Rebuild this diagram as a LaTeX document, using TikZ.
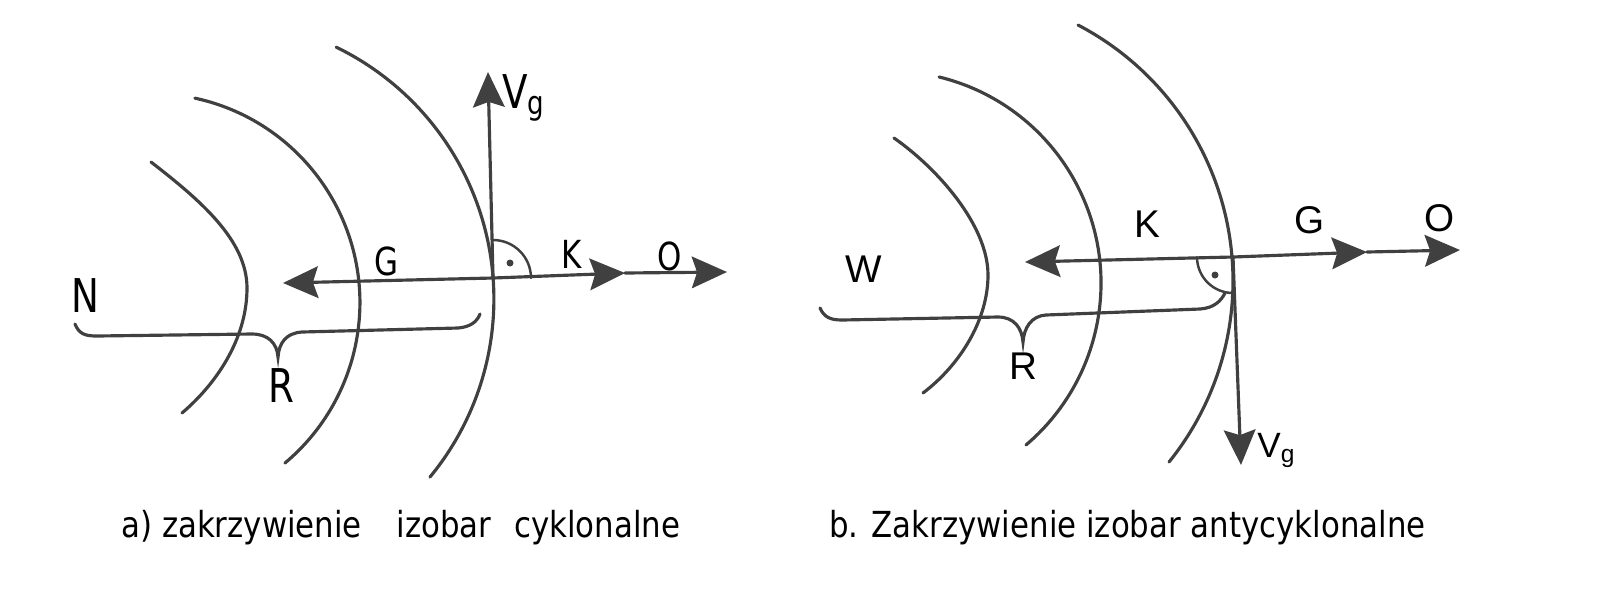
\documentclass[tikz,border=0pt]{standalone}
\usepackage{fontspec}
\setmainfont{DejaVu Sans}[FakeStretch=0.8]
\newfontfamily\arialfont{Liberation Sans}
\newfontfamily\capfont{DejaVu Sans}[FakeStretch=0.86]
\usetikzlibrary{arrows.meta}

\begin{document}
\begin{tikzpicture}[x=0.02cm,y=-0.02cm,
    izo/.style={draw=black!75,line width=1.8pt,line cap=round},
    lbl/.style={inner sep=0pt,font=\fontsize{22}{22}\selectfont},
    big/.style={inner sep=0pt,font=\fontsize{26.5}{26.5}\selectfont},
    alb/.style={inner sep=0pt,font=\arialfont\fontsize{22}{22}\selectfont},
    capt/.style={inner sep=0pt,anchor=base west,font=\capfont\fontsize{20.4}{20.4}\selectfont}]
  \useasboundingbox (0,0) rectangle (1600,600);
  \draw[izo] (151,162) .. controls (200,200) and (247,240) .. (247,288) .. controls (247,340) and (215,385) .. (182,413);
  \draw[izo] (150.7,302.6) ++(-77.8:209.2) arc[start angle=-77.8,end angle=50.1,radius=209.2];
  \draw[izo] (213.9,299) ++(-64.1:280) arc[start angle=-64.1,end angle=39.5,radius=280];
  \draw[izo] (894,138) .. controls (937,168) and (988,225) .. (988,275) .. controls (988,320) and (960,365) .. (923,393);
  \draw[izo] (888.8,283.1) ++(-76.3:212.2) arc[start angle=-76.3,end angle=49.7,radius=212.2];
  \draw[izo] (944.4,280.8) ++(-62.4:288.6) arc[start angle=-62.4,end angle=38.9,radius=288.6];
  \draw
    (493,278) coordinate (a-c)
    (283,283) coordinate (a-g)
    (625,273) coordinate (a-k)
    (727,272) coordinate (a-o)
    (488,72) coordinate (a-v)
    (1233,257) coordinate (b-c)
    (1025,262) coordinate (b-k)
    (1367,252) coordinate (b-g)
    (1460,250) coordinate (b-o)
    (1241,465) coordinate (b-v);
  \begin{scope}[izo,-{Stealth[length=20pt,width=18pt,inset=3pt]}]
    \draw (a-c) to (a-g);
    \draw (a-c) to (a-k);
    \draw (a-k) to (a-o);
    \draw (a-c) to (a-v);
    \draw (b-c) to (b-k);
    \draw (b-c) to (b-g);
    \draw (b-g) to (b-o);
    \draw (b-c) to (b-v);
  \end{scope}
  \draw[izo,line width=1.4pt] (a-c) ++(0,-38) arc[start angle=-90,end angle=0,radius=38];
  \draw[izo,line width=1.4pt] (b-c) ++(-36,0) arc[start angle=180,end angle=90,radius=36];
  \fill[black!75] (510,263) circle[radius=3.5] (1215,275) circle[radius=3.5];
  \draw[izo] (75,324) .. controls (79,334) and (85,336) .. (97,336) -- (252,334)
    .. controls (268,334) and (277,343) .. (278,357) .. controls (279,343) and (286,333) .. (302,332)
    -- (458,328) .. controls (470,327) and (477,322) .. (480,314);
  \draw[izo] (820,308) .. controls (824,317) and (830,320) .. (842,320) -- (998,317)
    .. controls (1014,317) and (1022,328) .. (1023,342) .. controls (1024,328) and (1031,316) .. (1046,315)
    -- (1200,309) .. controls (1214,308) and (1221,301) .. (1225,293);
  \node[big] (n) at (85,296) {N};
  \node[lbl] (g-a) at (386,261) {G};
  \node[lbl] (k-a) at (572,254) {K};
  \node[lbl] (o-a) at (670,256) {O};
  \node[big] (r-a) at (281,386) {R};
  \node[big,anchor=base west] (v-a) at (502,108) {V\textsubscript{g}};
  \node[alb] (w) at (864,269) {W};
  \node[alb] (k-b) at (1147,224) {K};
  \node[alb] (g-b) at (1310,220) {G};
  \node[alb] (o-b) at (1440,218) {O};
  \node[alb] (r-b) at (1023,366) {R};
  \node[alb,font=\arialfont\fontsize{20}{20}\selectfont,anchor=base west] (v-b) at (1257,457) {V\textsubscript{g}};
  \node[capt] (cap-a) at (121,537) {a) zakrzywienie\hspace{19.8pt}izobar\hspace{13pt}cyklonalne};
  \node[capt] (cap-b) at (829,537) {b. Zakrzywienie izobar antycyklonalne};
\end{tikzpicture}
\end{document}
